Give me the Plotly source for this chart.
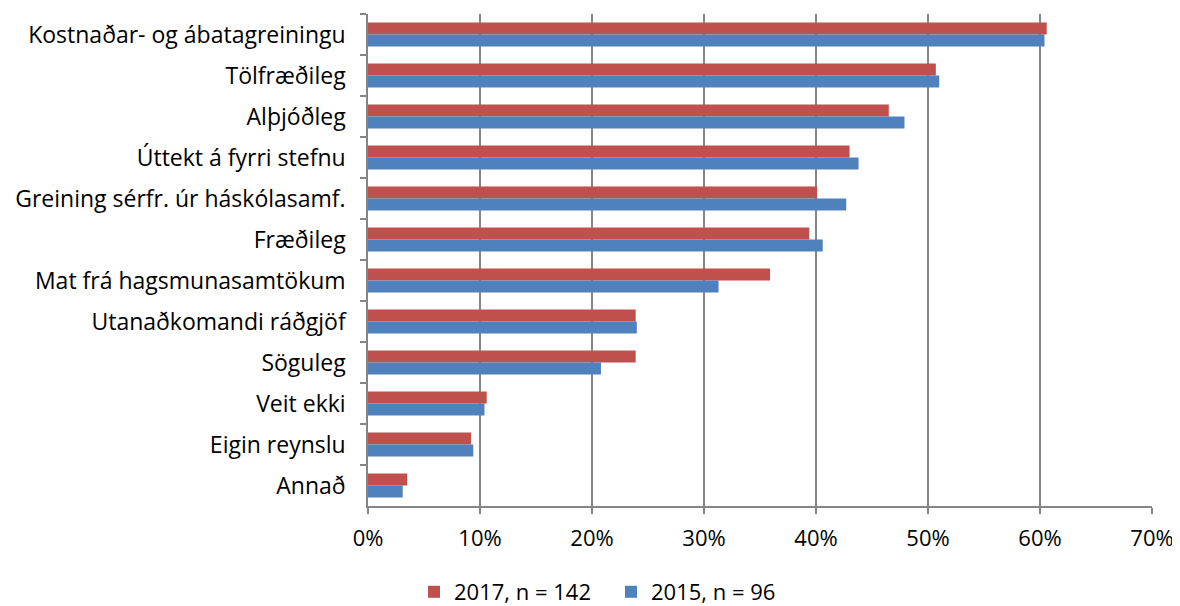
import plotly.graph_objects as go

categories = [
    "Kostnaðar- og ábatagreiningu",
    "Tölfræðileg",
    "Alþjóðleg",
    "Úttekt á fyrri stefnu",
    "Greining sérfr. úr háskólasamf.",
    "Fræðileg",
    "Mat frá hagsmunasamtökum",
    "Utanaðkomandi ráðgjöf",
    "Söguleg",
    "Veit ekki",
    "Eigin reynslu",
    "Annað",
]
values_2017 = [0.606, 0.507, 0.465, 0.430, 0.401, 0.394, 0.359, 0.239, 0.239, 0.106, 0.092, 0.035]
values_2015 = [0.604, 0.510, 0.479, 0.438, 0.427, 0.406, 0.313, 0.240, 0.208, 0.104, 0.094, 0.031]
x_ticks = [0, 0.1, 0.2, 0.3, 0.4, 0.5, 0.6, 0.7]

FONT = "Open Sans, sans-serif"
GRID = "#868686"

fig = go.Figure()
fig.add_trace(go.Bar(y=categories, x=values_2017, orientation="h", name="2017, n = 142",
                     marker={"color": "#c0504d", "line": {"width": 0}}))
fig.add_trace(go.Bar(y=categories, x=values_2015, orientation="h", name="2015, n = 96",
                     marker={"color": "#4f81bd", "line": {"width": 0}}))

# the page body adds 8px around the figure, so the figure is a bit smaller than the window
fig.update_layout(
    width=1172, height=598,
    barmode="group", bargap=0.41, bargroupgap=0,
    paper_bgcolor="white", plot_bgcolor="white",
    font={"family": FONT, "color": "#000000", "size": 23},
    margin={"l": 360, "r": 28, "t": 6, "b": 100, "autoexpand": False},
    legend={"orientation": "h", "xref": "container", "yref": "container",
            "x": 406 / 1172, "xanchor": "left", "y": 14 / 598, "yanchor": "middle",
            "font": {"size": 22}, "itemwidth": 30, "entrywidth": 152,
            "traceorder": "normal"},
    showlegend=True,
)
fig.update_xaxes(range=[0, 0.7], tickvals=x_ticks, tickformat=".0%",
                 showgrid=True, gridcolor=GRID, gridwidth=1.5,
                 showline=True, linecolor=GRID, linewidth=1.5,
                 ticks="outside", ticklen=6, tickcolor=GRID, tickwidth=1.5,
                 tickfont={"size": 22}, zeroline=False, automargin=False,
                 ticklabelstandoff=6)
fig.update_yaxes(autorange="reversed", showline=True, linecolor=GRID, linewidth=1.5,
                 ticks="outside", ticklen=6, tickcolor=GRID, tickwidth=1.5,
                 tickson="boundaries", showgrid=False, ticklabelstandoff=16,
                 tickfont={"size": 23}, automargin=False)

fig.write_html("out.html")
